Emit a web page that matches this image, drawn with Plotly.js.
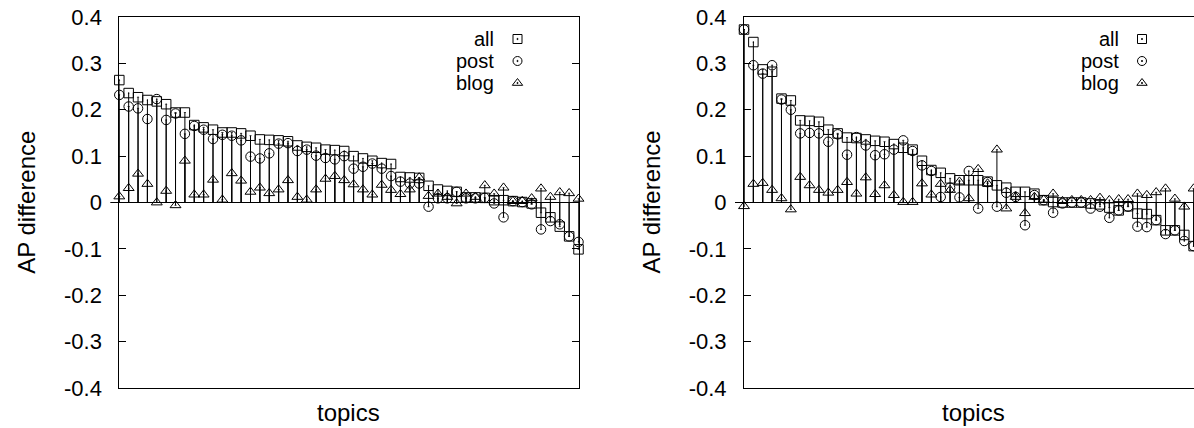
<!DOCTYPE html>
<html>
<head>
<meta charset="utf-8">
<script src="https://cdn.plot.ly/plotly-3.0.1.min.js"></script>
<style>
  html, body { margin: 0; padding: 0; background: #fff; overflow: hidden; }
  #chart { width: 1212px; height: 428px; }
</style>
</head>
<body>
<div id="chart"></div>
<script>
// ---------------- data ----------------
const topics = [1,2,3,4,5,6,7,8,9,10,11,12,13,14,15,16,17,18,19,20,21,22,23,24,25,
                26,27,28,29,30,31,32,33,34,35,36,37,38,39,40,41,42,43,44,45,46,47,48,49,50];

// left panel
const allA = [0.264,0.236,0.227,0.221,0.218,0.212,0.194,0.194,0.167,0.162,
              0.157,0.151,0.151,0.149,0.144,0.136,0.135,0.134,0.132,0.123,
              0.120,0.118,0.114,0.113,0.111,0.100,0.095,0.090,0.085,0.083,
              0.055,0.054,0.053,0.036,0.028,0.025,0.023,0.011,0.011,0.010,
              0.005,0.005,0.003,0.001,-0.002,-0.022,-0.032,-0.052,-0.073,-0.101];
const postA = [0.232,0.207,0.203,0.180,0.223,0.178,0.192,0.148,0.165,0.157,
               0.137,0.146,0.144,0.134,0.099,0.095,0.106,0.127,0.128,0.111,
               0.114,0.101,0.096,0.093,0.100,0.073,0.077,0.084,0.073,0.057,
               0.045,0.041,0.041,-0.009,0.009,0.009,0.023,0.009,0.009,0.010,
               -0.002,-0.032,0.003,0.001,-0.004,-0.058,-0.040,-0.047,-0.073,-0.085];
const blogA = [0.013,0.031,0.062,0.040,0.000,0.025,-0.006,0.090,0.017,0.017,
               0.049,0.006,0.063,0.047,0.023,0.032,0.020,0.028,0.048,0.012,
               0.006,0.028,0.051,0.057,0.048,0.039,0.028,0.017,0.038,0.027,
               0.018,0.028,0.054,0.014,0.019,0.012,-0.002,0.019,0.012,0.037,
               0.019,0.032,0.003,0.003,0.009,0.030,0.012,0.022,0.020,0.008];

// right panel
const allB = [0.373,0.346,0.287,0.282,0.224,0.220,0.177,0.176,0.174,0.157,
              0.149,0.140,0.139,0.136,0.133,0.131,0.126,0.118,0.114,0.090,
              0.070,0.064,0.052,0.048,0.048,0.048,0.045,0.037,0.032,0.023,
              0.023,0.019,0.005,0.001,0.000,0.000,0.000,-0.002,-0.004,-0.011,
              -0.017,-0.008,-0.024,-0.025,-0.038,-0.060,-0.060,-0.070,-0.094,-0.100];
const postB = [0.373,0.296,0.278,0.296,0.222,0.200,0.149,0.150,0.149,0.131,
               0.147,0.103,0.141,0.123,0.102,0.104,0.114,0.134,0.111,0.080,
               0.068,0.012,0.032,0.011,0.068,-0.013,0.044,-0.009,0.021,0.012,
               -0.049,0.016,0.005,-0.022,-0.002,0.000,0.000,-0.013,-0.009,-0.033,
               -0.017,-0.009,-0.052,-0.053,-0.038,-0.068,-0.060,-0.083,-0.094,-0.095];
const blogB = [-0.008,0.040,0.042,0.027,0.009,-0.015,0.055,0.037,0.027,0.021,
               0.027,0.044,0.019,0.054,0.018,0.037,0.016,0.001,0.001,0.041,
               0.017,0.040,0.027,0.045,0.009,0.072,0.041,0.114,-0.013,0.012,
               -0.023,0.012,0.006,0.019,0.003,0.005,0.005,0.005,0.010,0.005,
               0.007,0.007,0.019,0.016,0.022,0.030,0.008,-0.009,0.030,0.020];

const seriesNames = ['all', 'post', 'blog'];
const yTickVals = [-0.4,-0.3,-0.2,-0.1,0,0.1,0.2,0.3,0.4];
const yTickText = ['-0.4','-0.3','-0.2','-0.1','0','0.1','0.2','0.3','0.4'];

// ---------------- layout geometry ----------------
const W = 1212, H = 428, MT = 17, MB = 40;
const FONT = '"Liberation Sans", Arial, Helvetica, sans-serif';
const FS_TICK = 22, FS_TITLE = 24, FS_KEY = 20;
const px = x => x / W;
const py = y => (H - MB - y) / (H - MB - MT);

const symbols = ['square-open-dot', 'circle-open-dot', 'triangle-up-open-dot'];

function stems(name, ys, sym, xa, ya) {
  return {
    type: 'scatter', mode: 'markers', name: name,
    x: topics, y: ys, xaxis: xa, yaxis: ya,
    cliponaxis: false, showlegend: false, hoverinfo: 'skip',
    marker: { symbol: sym, size: 9.5, color: 'black', line: { color: 'black', width: 1 } },
    error_y: {
      type: 'data', symmetric: false,
      array: ys.map(v => v < 0 ? -v : 0),
      arrayminus: ys.map(v => v > 0 ? v : 0),
      width: 0, thickness: 1, color: 'black'
    }
  };
}

const data = [
  stems('all',  allA,  symbols[0], 'x',  'y'),
  stems('post', postA, symbols[1], 'x',  'y'),
  stems('blog', blogA, symbols[2], 'x',  'y'),
  stems('all',  allB,  symbols[0], 'x2', 'y2'),
  stems('post', postB, symbols[1], 'x2', 'y2'),
  stems('blog', blogB, symbols[2], 'x2', 'y2')
];

function xAxis(domain, anchor) {
  return {
    domain: domain, anchor: anchor, range: [1, 50],
    showticklabels: false, ticks: '', showgrid: false, zeroline: false,
    showline: true, mirror: true, linecolor: 'black', linewidth: 1
  };
}
function yAxis(anchor) {
  return {
    domain: [0, 1], anchor: anchor, range: [-0.4, 0.4],
    tickmode: 'array', tickvals: yTickVals, ticktext: yTickText,
    ticks: 'inside', ticklen: 7, tickwidth: 1, tickcolor: 'black',
    showline: true, mirror: 'ticks', linecolor: 'black', linewidth: 1,
    showgrid: false, zeroline: true, zerolinecolor: 'black', zerolinewidth: 1,
    ticklabelstandoff: 12,
    tickfont: { family: FONT, size: FS_TICK, color: 'black' }
  };
}

const panels = [
  { left: 119.3, right: 578.5, xa: 'x', ya: 'y' },
  { left: 744, right: 1203, xa: 'x2', ya: 'y2' }
];

const annotations = [];
const shapes = [];
const legendRows = [39, 61, 83];
panels.forEach(p => {
  annotations.push({
    text: 'AP difference', xref: 'paper', yref: 'paper',
    x: px(p.left - 93), y: 0.5, textangle: -90, showarrow: false,
    xanchor: 'center', yanchor: 'middle',
    font: { family: FONT, size: FS_TITLE, color: 'black' }
  });
  annotations.push({
    text: 'topics', xref: 'paper', yref: 'paper',
    x: px((p.left + p.right) / 2), y: py(412), showarrow: false,
    xanchor: 'center', yanchor: 'middle',
    font: { family: FONT, size: FS_TITLE, color: 'black' }
  });
  // short tick left of axis at zero
  shapes.push({ type: 'line', xref: 'paper', yref: p.ya,
    x0: px(p.left - 9), x1: px(p.left), y0: 0, y1: 0,
    line: { color: 'black', width: 1 } });
  // key
  const mx = p.right - 61;
  const tx = mx - 21;
  seriesNames.forEach((nm, i) => {
    const cy = legendRows[i];
    annotations.push({
      text: nm, xref: 'paper', yref: 'paper', x: px(tx), y: py(cy),
      xanchor: 'right', yanchor: 'middle', showarrow: false,
      font: { family: FONT, size: FS_KEY, color: 'black' }
    });
    const ln = { color: 'black', width: 1 };
    if (i === 0) {
      shapes.push({ type: 'rect', xref: 'paper', yref: 'paper',
        x0: px(mx - 4.5), x1: px(mx + 4.5), y0: py(cy + 4.5), y1: py(cy - 4.5), line: ln });
    } else if (i === 1) {
      shapes.push({ type: 'circle', xref: 'paper', yref: 'paper',
        x0: px(mx - 4.5), x1: px(mx + 4.5), y0: py(cy + 4.5), y1: py(cy - 4.5), line: ln });
    } else {
      shapes.push({ type: 'path', xref: 'paper', yref: 'paper',
        path: 'M ' + px(mx - 5.2) + ' ' + py(cy + 2.3) + ' L ' + px(mx + 5.2) + ' ' + py(cy + 2.3) +
              ' L ' + px(mx) + ' ' + py(cy - 4.5) + ' Z', line: ln });
    }
    shapes.push({ type: 'circle', xref: 'paper', yref: 'paper',
      x0: px(mx - 0.6), x1: px(mx + 0.6), y0: py(cy + 0.6), y1: py(cy - 0.6),
      line: { color: 'black', width: 1 }, fillcolor: 'black' });
  });
});

const layout = {
  width: W, height: H,
  margin: { l: 0, r: 0, t: MT, b: MB, pad: 0 },
  paper_bgcolor: 'white', plot_bgcolor: 'white',
  showlegend: false,
  xaxis: xAxis([px(119.3), px(578.5)], 'y'),
  yaxis: yAxis('x'),
  xaxis2: xAxis([px(744), px(1203)], 'y2'),
  yaxis2: yAxis('x2'),
  annotations: annotations,
  shapes: shapes
};

Plotly.newPlot('chart', data, layout, { displayModeBar: false, staticPlot: true });
</script>
</body>
</html>
